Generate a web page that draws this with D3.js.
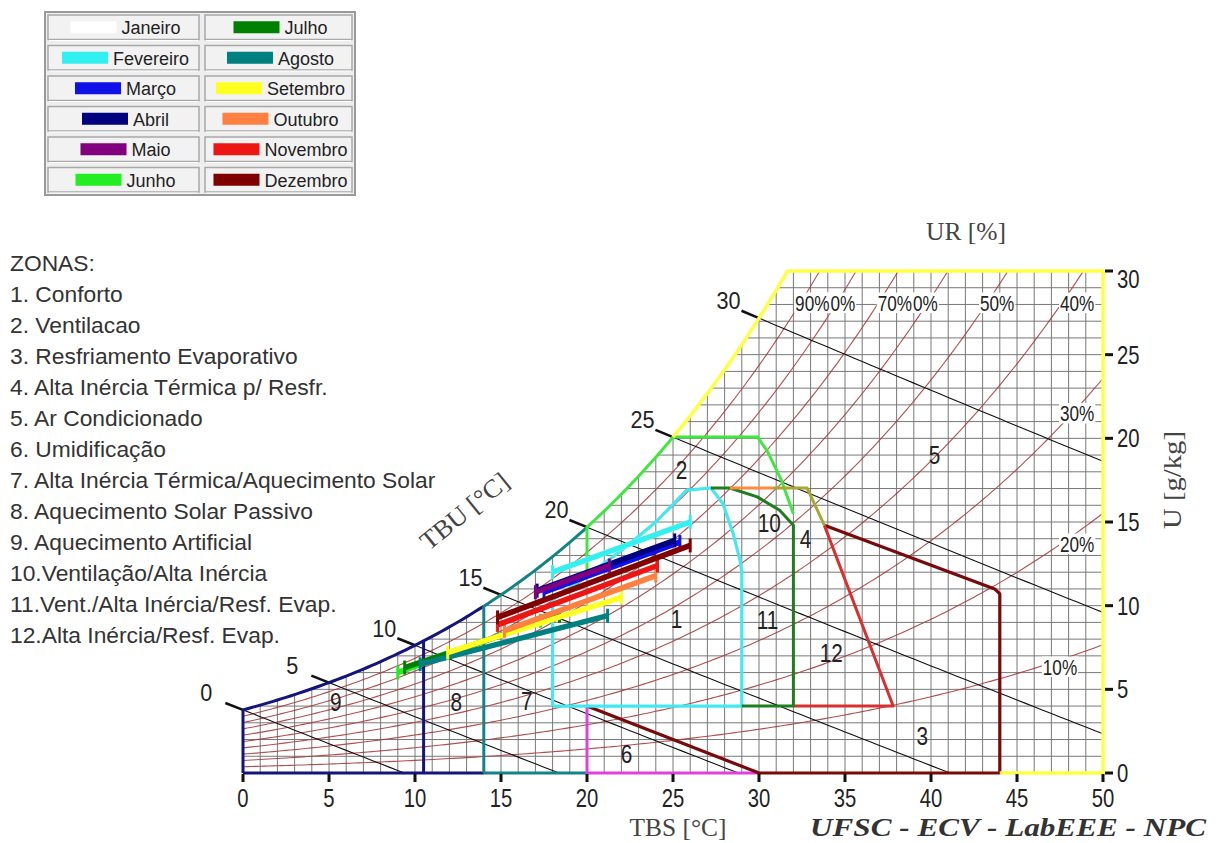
<!DOCTYPE html>
<html><head><meta charset="utf-8">
<script src="https://cdn.jsdelivr.net/npm/d3@7"></script>
<style>body{margin:0;background:#fff}svg{display:block}</style>
</head><body><svg id="c" width="1219" height="843"></svg>
<script>
// ---------------- DATA ----------------
const months = ["Janeiro","Fevereiro","Março","Abril","Maio","Junho","Julho","Agosto","Setembro","Outubro","Novembro","Dezembro"];
const monthColors = ["#ffffff","#33f0f0","#1010e8","#000080","#800080","#22ee22","#008000","#008080","#ffff20","#ff8040","#ee1515","#800000"];
// monthly segment: start (TBS, U) -> end (TBS, U)
const tbsStart = [18.0, 18.0, 17.5, 17.1, 17.0, 9.0, 9.4, 10.3, 11.9, 15.2, 14.8, 14.8];
const uStart   = [12.0, 12.0, 10.8, 10.9, 10.8, 6.0, 6.3, 6.5, 7.2, 8.5, 8.85, 9.3];
const tbsEnd   = [26.0, 26.0, 25.4, 25.1, 21.3, 17.3, 18.4, 21.2, 22.0, 24.0, 24.1, 26.0];
const uEnd     = [15.0, 15.0, 13.8, 13.9, 12.4, 9.1, 9.4, 9.4, 10.5, 11.8, 12.4, 13.6];

const rhLevels = [10,20,30,40,50,60,70,80,90];
const tbuLevels = [0,5,10,15,20,25,30];
const xTicks = [0,5,10,15,20,25,30,35,40,45,50];
const yTicks = [0,5,10,15,20,25,30];

const zoneList = ["ZONAS:","1. Conforto","2. Ventilacao","3. Resfriamento Evaporativo","4. Alta Inércia Térmica p/ Resfr.","5. Ar Condicionado","6. Umidificação","7. Alta Inércia Térmica/Aquecimento Solar","8. Aquecimento Solar Passivo","9. Aquecimento Artificial","10.Ventilação/Alta Inércia","11.Vent./Alta Inércia/Resf. Evap.","12.Alta Inércia/Resf. Evap."];
const zoneIds = [1,2,3,4,5,6,7,8,9,10,11,12];
const zoneLabelT = [25.2, 25.5, 39.5, 32.7, 40.2, 22.3, 16.5, 12.4, 5.4, 30.6, 30.5, 34.2];
const zoneLabelU = [9.2, 18.1, 2.2, 14.0, 19.0, 1.1, 4.3, 4.25, 4.25, 14.95, 9.15, 7.17];

// zone boundaries in (TBS, U)
const comfortZone = [[18,4],[18,10.35],[20,11.8],[22,13.3],[24,15.0],[25.8,16.9],[27.2,17.03],[27.9,16.1],[28.5,14.3],[28.9,12.7],[29,12.0],[29,4],[18,4]];
const ventTail = [[29.9,20.1],[30.5,19.2],[31.3,17.5],[32,15.5]];
const greenZone = [[27.2,17.03],[28.3,17.03],[29.9,16.5],[31.2,15.7],[32,14.8],[32,4],[29,4]];
const orangeSeg = [[28.3,17.03],[30.8,17.03]];
const oliveSeg = [[30.8,17.03],[32.8,17.03],[33.8,14.8]];
const redZone = [[33.8,14.8],[37.8,4],[32,4]];
const maroonZone = [[33.8,14.8],[43.7,11.0],[44,10.7],[44,0],[30,0],[20,4]];
const magentaZone = [[20,4],[20,0],[30,0]];

// ---------------- SETUP ----------------
const svg = d3.select("#c");
const x = d3.scaleLinear().domain([0,50]).range([243,1103]);
const y = d3.scaleLinear().domain([0,30]).range([773,271]);
const P = 101.325;
const pws = T => 0.61078*Math.exp(17.27*T/(T+237.3));
const wRH = (T,rh) => { const p = rh*pws(T); return 622*p/(P-p); };
const wsat = T => wRH(T,1);
const wWB = (T,twb) => { const ws = wsat(twb)/1000; return 1000*((2501-2.326*twb)*ws-1.006*(T-twb))/(2501+1.86*T-4.186*twb); };
function solve(f, a, b){ for(let i=0;i<60;i++){ const m=(a+b)/2; if((f(a)<0)===(f(m)<0)) a=m; else b=m;} return (a+b)/2; }
const tSat30 = solve(T=>wsat(T)-30, 20, 40);
const line = d3.line().x(d=>x(d[0])).y(d=>y(d[1]));
const satPts = (a,b) => { const r=[]; for(let t=a;t<b;t+=0.25) r.push([t,wsat(t)]); r.push([b,wsat(b)]); return r; };

const FONT = "'Liberation Sans', Arial, sans-serif";
const SERIF = "'Liberation Serif','Times New Roman',serif";
function numText(g, px, py, str, size, sx, anchor){
  return g.append("text").attr("transform",`translate(${px},${py}) scale(${sx},1)`)
    .attr("text-anchor",anchor||"middle").attr("dominant-baseline","central")
    .style("font-family",FONT).style("font-size",size+"px").attr("fill","#222").text(str);
}

// clip region (under saturation curve)
const clipPts = [[0,0]].concat(satPts(0,tSat30)).concat([[50,30],[50,0]]);
svg.append("clipPath").attr("id","clip").append("path").attr("d", line(clipPts)+"Z");
const plot = svg.append("g").attr("clip-path","url(#clip)");

// grid
for(let t=0;t<=50;t++) plot.append("line").attr("x1",x(t)).attr("x2",x(t)).attr("y1",y(0)).attr("y2",y(30)).attr("stroke","#787878").attr("stroke-width",1);
for(let w=0;w<=30;w++) plot.append("line").attr("x1",x(0)).attr("x2",x(50)).attr("y1",y(w)).attr("y2",y(w)).attr("stroke","#787878").attr("stroke-width",1);

// RH curves
rhLevels.forEach(rh=>{
  const pts=[]; for(let t=0;t<=50;t+=0.25){ const w=wRH(t,rh/100); pts.push([t,w]); if(w>30.5) break; }
  plot.append("path").attr("d",line(pts)).attr("fill","none").attr("stroke","#a83c3c").attr("stroke-opacity",0.9).attr("stroke-width",1.1);
});

// wet bulb lines
const wbG = svg.append("g");
tbuLevels.forEach(twb=>{
  const tEndWB = Math.min(50, solve(T=>wWB(T,twb), twb, 80));
  const pts=[]; for(let t=twb;t<tEndWB;t+=0.5) pts.push([t,wWB(t,twb)]); pts.push([tEndWB, Math.max(0,wWB(tEndWB,twb))]);
  plot.append("path").attr("d",line(pts)).attr("fill","none").attr("stroke","#111").attr("stroke-width",1.1);
  const p0=[x(twb),y(wsat(twb))], p1=[x(twb+1),y(wWB(twb+1,twb))];
  const dx=p1[0]-p0[0], dy=p1[1]-p0[1], L=Math.hypot(dx,dy);
  const e=[p0[0]-dx/L*19, p0[1]-dy/L*19];
  wbG.append("line").attr("x1",p0[0]).attr("y1",p0[1]).attr("x2",e[0]).attr("y2",e[1]).attr("stroke","#111").attr("stroke-width",2.6);
  numText(wbG, e[0]-25, e[1]-10, String(twb), 24, 0.9, "start");
});

// zone boundaries
const zg = svg.append("g").attr("fill","none").attr("stroke-linejoin","round");
function zp(pts,color,w){ zg.append("path").attr("d",line(pts)).attr("stroke",color).attr("stroke-width",w||3); }
const NAVY="#14147e", TEAL="#128484", CYAN="#44e8f0", LIME="#3ee83e", GREEN="#1e7e1e", ORANGE="#ff8a40", OLIVE="#a8a830", RED="#d83030", MAROON="#7a0a0a", MAG="#e040e0", YEL="#ffff44";
zp([[0,0],[0,wsat(0)]].concat(satPts(0,14)), NAVY);
zp([[10.5,wsat(10.5)],[10.5,0]], NAVY);
zp([[0,0],[14,0]], NAVY);
zp(satPts(14,20), TEAL);
zp([[14,wsat(14)],[14,0]], TEAL);
zp([[14,0],[20,0]], TEAL);
zp(magentaZone, MAG);
zp(maroonZone, MAROON, 3.2);
zp(redZone, RED);
zp(comfortZone, CYAN, 3.2);
zp([[20,11.8],[20,wsat(20)]].concat(satPts(20,25)).concat([[25,wsat(25)],[29.9,wsat(25)]]).concat(ventTail), LIME);
zp(greenZone, GREEN);
zp(orangeSeg, ORANGE);
zp(oliveSeg, OLIVE);
zp(satPts(25,tSat30).concat([[tSat30,30],[50,30],[50,0],[44,0]]), YEL, 3.5);

// axis ticks
const ax = svg.append("g");
xTicks.forEach(t=>{
  ax.append("line").attr("x1",x(t)).attr("x2",x(t)).attr("y1",y(0)+1).attr("y2",y(0)+9).attr("stroke","#111").attr("stroke-width",3);
  numText(ax, x(t), 798, String(t), 26, 0.78, "middle");
});
yTicks.forEach(w=>{
  ax.append("line").attr("x1",x(50)+2).attr("x2",x(50)+10).attr("y1",y(w)).attr("y2",y(w)).attr("stroke","#111").attr("stroke-width",3);
  numText(ax, x(50)+14, y(w)+ (w===30?8:0), String(w), 26, 0.78, "start");
});

// monthly segments
const mg = svg.append("g");
months.forEach((m,i)=>{
  const a=[tbsStart[i],uStart[i]], b=[tbsEnd[i],uEnd[i]];
  mg.append("path").attr("d",line([a,b])).attr("stroke",monthColors[i]).attr("stroke-width",5.5).attr("fill","none");
  [a,b].forEach(p=>mg.append("line").attr("x1",x(p[0])).attr("x2",x(p[0])).attr("y1",y(p[1])-7).attr("y2",y(p[1])+7).attr("stroke",monthColors[i]).attr("stroke-width",3));
});

// zone labels
const zl = svg.append("g");
zoneIds.forEach((z,i)=> numText(zl, x(zoneLabelT[i]), y(zoneLabelU[i]), String(z), 26, 0.8, "middle"));

// RH labels (white background)
const rhLabelT = [46.5, 47.5, 47.5, 47.5, 42.85, 38.4, 36.9, 33.6, 32.1];
const rhLabelU = [6.35, 13.7, 21.5, 28.1, 28.1, 28.1, 28.1, 28.1, 28.1];
const rl = svg.append("g");
rhLevels.forEach((rh,i)=>{
  const t = numText(rl, x(rhLabelT[i]), y(rhLabelU[i]), rh+"%", 22, 0.78, "start");
  const bb = t.node().getBBox();
  const sx=0.78;
  rl.insert("rect", function(){return t.node();}).attr("x", x(rhLabelT[i])+bb.x*sx-1).attr("y", y(rhLabelU[i])+bb.y+2).attr("width", bb.width*sx+2).attr("height", bb.height-4).attr("fill","#fff");
});

// titles
function title(tr, str, len, extra){
  const t = svg.append("text").attr("transform",tr).attr("text-anchor","middle").style("font-family",SERIF).style("font-size","26px").attr("fill","#444").text(str);
  if(len) t.attr("textLength",len).attr("lengthAdjust","spacingAndGlyphs");
  if(extra) extra(t);
  return t;
}
title("translate(966,240)", "UR [%]", 80);
title("translate(1181,480) rotate(-90)", "U [g/kg]", 98);
title("translate(470,518) rotate(-39)", "TBU [°C]", 106);
title("translate(678,836)", "TBS [°C]", 97);
title("translate(1008,836)", "UFSC - ECV - LabEEE - NPC", 396, t=>t.style("font-weight","bold").style("font-style","italic").attr("fill","#333"));

// zone list
const zlist = svg.append("g");
zoneList.forEach((s,i)=> zlist.append("text").attr("x",10).attr("y",263+i*31).attr("dominant-baseline","central").style("font-family",FONT).style("font-size","22.8px").attr("fill","#333").text(s));

// legend table
const lg = svg.append("g");
const L0=45, T0=12, CW=[157,153], RH=30.5;
lg.append("rect").attr("x",L0).attr("y",T0).attr("width",CW[0]+CW[1]).attr("height",RH*6).attr("fill","#eeeeee").attr("stroke","#9a9a9a").attr("stroke-width",2);
months.forEach((m,i)=>{
  const col = i<6?0:1, row=i%6;
  const cx = L0 + (col?CW[0]:0), cy = T0 + row*RH;
  lg.append("rect").attr("x",cx+3).attr("y",cy+3).attr("width",CW[col]-6).attr("height",RH-6).attr("fill","#f2f2f2").attr("stroke","#a8a8a8").attr("stroke-width",1.5);
  lg.append("line").attr("x1",cx+4).attr("x2",cx+CW[col]-4).attr("y1",cy+RH-2).attr("y2",cy+RH-2).attr("stroke","#fff").attr("stroke-width",1);
  const txt = lg.append("text").attr("y",cy+RH/2+1).attr("dominant-baseline","central").style("font-family",FONT).style("font-size","18px").attr("fill","#222").text(m);
  const tw = txt.node().getComputedTextLength();
  const gw = 46+5+tw, sx0 = cx + CW[col]/2 - gw/2 + 2;
  lg.append("rect").attr("x",sx0).attr("y",cy+RH/2-6).attr("width",46).attr("height",12).attr("fill",monthColors[i]);
  txt.attr("x",sx0+51);
});
</script></body></html>
